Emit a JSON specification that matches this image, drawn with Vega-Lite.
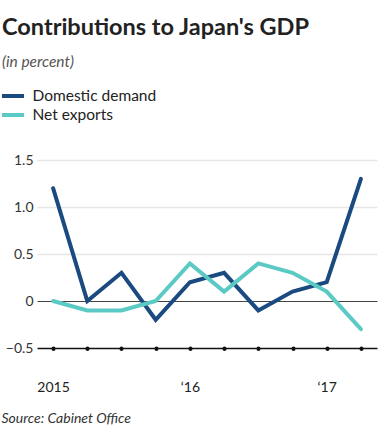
{
  "$schema": "https://vega.github.io/schema/vega-lite/v6.json",
  "autosize": {"type": "none"},
  "width": 340,
  "height": 188,
  "padding": {"left": 37, "top": 160, "right": 7, "bottom": 99},
  "background": "white",
  "config": {
    "font": "Lato",
    "view": {"stroke": null}
  },
  "title": {
    "text": "Contributions to Japan's GDP",
    "subtitle": "(in percent)",
    "anchor": "start",
    "frame": "group",
    "orient": "top",
    "dx": -35,
    "offset": 15.5,
    "font": "Lato",
    "fontSize": 23.5,
    "fontWeight": "bold",
    "color": "#222222",
    "subtitleFont": "Lato",
    "subtitleFontSize": 15.5,
    "subtitleFontStyle": "italic",
    "subtitleColor": "#555555",
    "subtitlePadding": 15
  },
  "data": {
    "values": [
      {"q": "2015Q1", "series": "Domestic demand", "value": 1.2},
      {"q": "2015Q2", "series": "Domestic demand", "value": 0.0},
      {"q": "2015Q3", "series": "Domestic demand", "value": 0.3},
      {"q": "2015Q4", "series": "Domestic demand", "value": -0.2},
      {"q": "2016Q1", "series": "Domestic demand", "value": 0.2},
      {"q": "2016Q2", "series": "Domestic demand", "value": 0.3},
      {"q": "2016Q3", "series": "Domestic demand", "value": -0.1},
      {"q": "2016Q4", "series": "Domestic demand", "value": 0.1},
      {"q": "2017Q1", "series": "Domestic demand", "value": 0.2},
      {"q": "2017Q2", "series": "Domestic demand", "value": 1.3},
      {"q": "2015Q1", "series": "Net exports", "value": 0.0},
      {"q": "2015Q2", "series": "Net exports", "value": -0.1},
      {"q": "2015Q3", "series": "Net exports", "value": -0.1},
      {"q": "2015Q4", "series": "Net exports", "value": 0.0},
      {"q": "2016Q1", "series": "Net exports", "value": 0.4},
      {"q": "2016Q2", "series": "Net exports", "value": 0.1},
      {"q": "2016Q3", "series": "Net exports", "value": 0.4},
      {"q": "2016Q4", "series": "Net exports", "value": 0.3},
      {"q": "2017Q1", "series": "Net exports", "value": 0.1},
      {"q": "2017Q2", "series": "Net exports", "value": -0.3}
    ]
  },
  "mark": {"type": "line", "strokeWidth": 4, "strokeJoin": "miter", "strokeCap": "round"},
  "encoding": {
    "x": {
      "field": "q",
      "type": "ordinal",
      "scale": {"type": "point", "padding": 0.47},
      "axis": {
        "title": "Source: Cabinet Office",
        "titleFont": "Lato",
        "titleFontSize": 14,
        "titleFontStyle": "italic",
        "titleFontWeight": "normal",
        "titleColor": "#333333",
        "titleAnchor": "start",
        "titleAlign": "left",
        "titleBaseline": "middle",
        "titleX": -36,
        "titleY": 70,
        "labelAngle": 0,
        "labelExpr": "datum.value == '2015Q1' ? '2015' : datum.value == '2016Q1' ? '\u201816' : datum.value == '2017Q1' ? '\u201817' : ''",
        "labelFontSize": 14,
        "labelColor": "#222222",
        "labelPadding": 32,
        "domainColor": "#111111",
        "domainWidth": 1.5,
        "ticks": true,
        "tickSize": 0.5,
        "tickWidth": 4,
        "tickCap": "round",
        "tickColor": "#111111",
        "grid": false
      }
    },
    "y": {
      "field": "value",
      "type": "quantitative",
      "scale": {"domain": [-0.5, 1.5], "nice": false, "zero": false},
      "axis": {
        "title": null,
        "values": [-0.5, 0, 0.5, 1, 1.5],
        "labelExpr": "datum.value == 0 ? '0' : format(datum.value, '.1f')",
        "labelFontSize": 14,
        "labelColor": "#333333",
        "labelPadding": 4,
        "ticks": false,
        "domain": false,
        "grid": true,
        "gridColor": {"expr": "datum.value == 0 ? '#444444' : datum.value == -0.5 ? 'transparent' : '#e6e6e6'"},
        "gridWidth": {"expr": "datum.value == 0 ? 1.2 : 1.5"}
      }
    },
    "color": {
      "field": "series",
      "type": "nominal",
      "scale": {"domain": ["Domestic demand", "Net exports"], "range": ["#1a4a7f", "#5ccac4"]},
      "legend": {
        "title": null,
        "orient": "none",
        "legendX": -34.5,
        "legendY": -74.5,
        "symbolType": "M-1.3,0H1.3",
        "symbolStrokeWidth": 4,
        "symbolSize": 289,
        "labelFontSize": 15.5,
        "labelColor": "#222222",
        "labelFont": "Lato",
        "labelOffset": 9,
        "rowPadding": 0
      }
    }
  }
}
